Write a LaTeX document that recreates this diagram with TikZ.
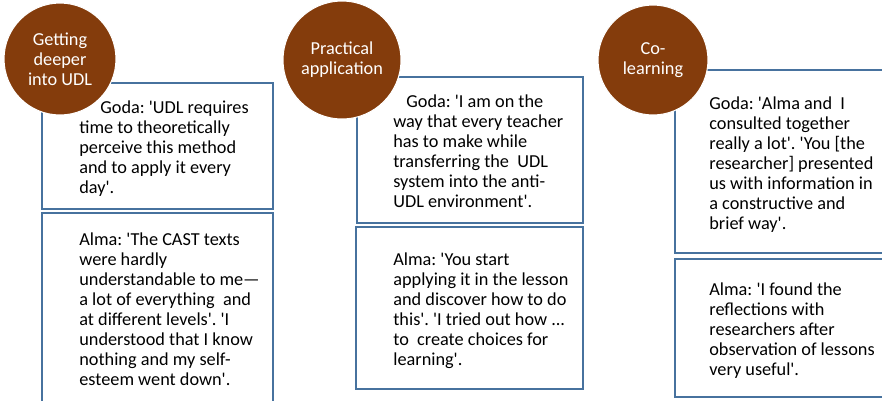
\documentclass[tikz,border=0pt]{standalone}
\usepackage{fontspec}
\newfontfamily\calfont{Carlito}
\definecolor{themebrown}{RGB}{132,60,12}
\definecolor{boxblue}{RGB}{71,114,158}
\tikzset{
    theme/.style={circle, fill=themebrown, draw=white, line width=0.6pt, text=white,
        align=center, inner sep=0pt, font=\calfont\fontsize{10.4}{11.4}\selectfont},
    quotebox/.style={draw=boxblue, line width=1.1pt},
    quote/.style={anchor=north west, align=left, inner sep=0pt,
        font=\calfont\fontsize{10.4}{11.4}\selectfont\frenchspacing}
}
\begin{document}
\begin{tikzpicture}[x=0.02cm, y=-0.02cm]
        \useasboundingbox (0,0) rectangle (882,400);
        \clip (0,0) rectangle (882,400);

        % getting deeper into UDL
        \draw[quotebox] (42,83) rectangle (273,209);
        \draw[quotebox] (42,213) rectangle (273,410);
        \node[quote] (deepgoda) at (79,100) {\hspace*{0.42cm}Goda: 'UDL requires\\time to theoretically\\perceive this method\\and to apply it every\\day'.};
        \node[quote] (deepalma) at (79,232) {Alma: 'The CAST texts\\were hardly\\understandable to me—\\a lot of everything\ \ and\\at different levels'. 'I\\understood that I know\\nothing and my self-\\esteem went down'.};
        \node[theme, minimum size=2.24cm] (deep) at (60,59) {Getting\\deeper\\into UDL};

        % practical application
        \draw[quotebox] (357,77) rectangle (583,223);
        \draw[quotebox] (356,227) rectangle (583,389);
        \node[quote] (practgoda) at (393,94) {\hspace*{0.26cm}Goda: 'I am on the\\way that every teacher\\has to make while\\transferring the\ \ UDL\\system into the anti-\\UDL environment'.};
        \node[quote] (practalma) at (393,252) {Alma: 'You start\\applying it in the lesson\\and discover how to do\\this'. 'I tried out how ...\\to\ \ create choices for\\learning'.};
        \node[theme, minimum size=2.36cm] (pract) at (342,60) {Practical\\application};

        % co-learning
        \draw[quotebox] (675,70) rectangle (895,253);
        \draw[quotebox] (675,259) rectangle (895,397);
        \node[quote] (cogoda) at (709,96) {Goda: 'Alma and\ \ I\\consulted together\\really a lot'. 'You [the\\researcher] presented\\us with information in\\a constructive and\\brief way'.};
        \node[quote] (coalma) at (709,282) {Alma: 'I found the\\reflections with\\researchers after\\observation of lessons\\very useful'.};
        \node[theme, minimum size=2.2cm] (colearn) at (653,60) {Co-\\learning};
    \end{tikzpicture}
\end{document}
